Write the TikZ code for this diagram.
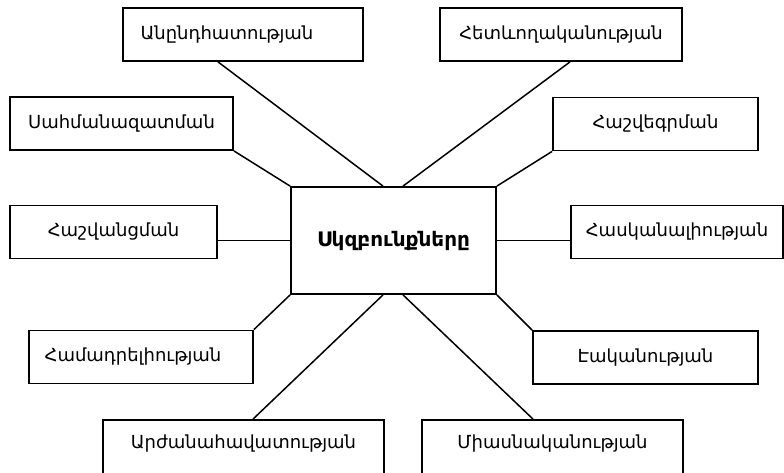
\documentclass[tikz,border=0pt]{standalone}
\usepackage{fontspec}
\setmainfont{DejaVu Sans}
\usetikzlibrary{calc}
\begin{document}
\begin{tikzpicture}[x=1pt,y=-1pt,
  box/.style={draw=black, line width=1.8pt, fill=white, inner sep=0pt, minimum height=53pt},
  lbl/.style={font=\fontsize{18}{21}\selectfont, inner sep=0pt},
  hub/.style={draw=black, line width=1.8pt, fill=white, inner sep=0pt,
    minimum width=205pt, minimum height=107pt, font=\fontsize{20}{24}\selectfont\bfseries},
  link/.style={draw=black, line width=1.5pt}]
\useasboundingbox (0,0) rectangle (784,473);
\clip (0,0) rectangle (784,473);

% central node
\node[hub] (c) at (393.5,240.5) {Սկզբունքները};

% surrounding principles
\node[box, minimum width=240pt, label={[lbl, xshift=-16pt]center:Անընդհատության}] (b1) at (243,34.5) {};
\node[box, minimum width=242pt, label={[lbl]center:Հետևողականության}] (b2) at (561,34.5) {};
\node[box, minimum width=223pt, label={[lbl]center:Սահմանազատման}] (b3) at (121.5,123.5) {};
\node[box, minimum width=205pt, label={[lbl]center:Հաշվեգրման}] (b4) at (655.5,124) {};
\node[box, minimum width=207pt, label={[lbl]center:Հաշվանցման}] (b5) at (113.5,232) {};
\node[box, minimum width=212pt, label={[lbl]center:Հասկանալիության}] (b6) at (677,232) {};
\node[box, minimum width=224pt, label={[lbl, xshift=-8pt]center:Համադրելիության}] (b8) at (141,357) {};
\node[box, minimum width=225pt, label={[lbl]center:Էականության}] (b9) at (645.5,357.5) {};
\node[box, minimum width=281pt, minimum height=56pt, label={[lbl, yshift=4pt]center:Արժանահավատության}] (b10) at (243.5,448) {};
\node[box, minimum width=261pt, minimum height=56pt, label={[lbl, yshift=4pt]center:Միասնականության}] (b11) at (552.5,448) {};

% connectors
\draw[link] ([xshift=-25pt]b1.south) -- ([xshift=-10.5pt]c.north);
\draw[link] ([xshift=9pt]b2.south) -- ([xshift=9.5pt]c.north);
\draw[link] (b3.south east) -- (c.north west);
\draw[link] (b4.south west) -- (c.north east);
\draw[link] (c.west) -- (c.west -| b5.east);
\draw[link] (c.east) -- (c.east -| b6.west);
\draw[link] (b8.north east) -- (c.south west);
\draw[link] (b9.north west) -- (c.south east);
\draw[link] ([xshift=9.5pt]b10.north) -- ([xshift=-10.5pt]c.south);
\draw[link] ([xshift=-19.5pt]b11.north) -- ([xshift=9.5pt]c.south);
\end{tikzpicture}
\end{document}
